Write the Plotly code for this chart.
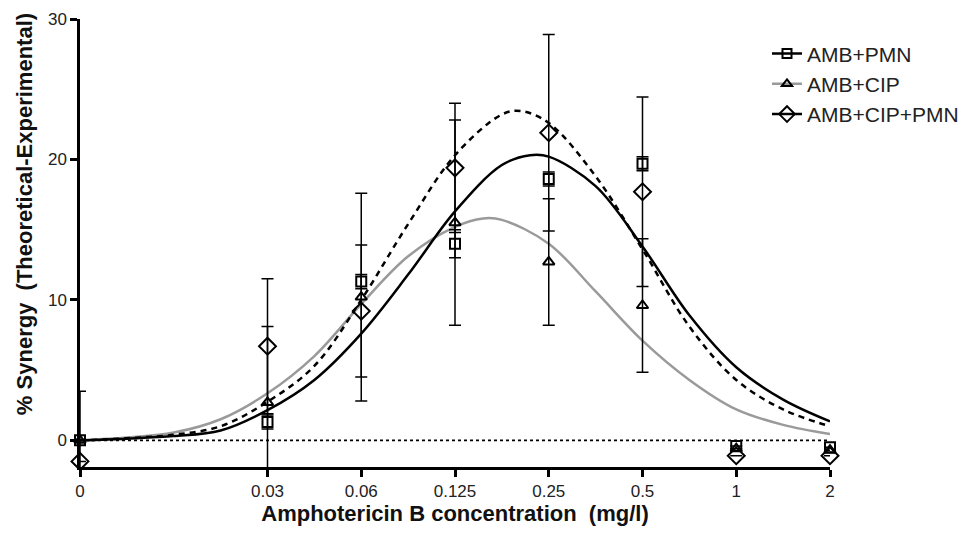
import plotly.graph_objects as go

# ---- data ----
conc_labels = ["0", "0.03", "0.06", "0.125", "0.25", "0.5", "1", "2"]
conc_pos = [-2, 0, 1, 2, 3, 4, 5, 6]   # axis position of each concentration (log2 steps, 0 offset)

amb_pmn = [0.0, 1.3, 11.3, 14.0, 18.6, 19.7, -0.4, -0.5]
amb_pmn_err = [3.5, 0.5, 0.5, 1.0, 0.5, 0.5, 0.0, 0.0]

amb_cip = [0.0, 2.7, 10.2, 15.5, 12.7, 9.6, -0.6, -0.7]
amb_cip_err = [0.0, 5.4, 7.4, 7.3, 4.5, 4.75, 0.0, 0.0]

amb_cip_pmn = [-1.5, 6.7, 9.2, 19.4, 21.9, 17.7, -1.1, -1.1]
amb_cip_pmn_err = [0.0, 4.8, 4.7, 4.6, 7.0, 6.75, 0.0, 0.0]

# fitted curves sampled along the axis
curve_pos_pmn = [-2, -1.5, -1, -0.5, 0, 0.5, 1, 1.5, 2, 2.5, 2.8, 3, 3.5, 4, 4.5, 5, 5.5, 6]
curve_pmn = [0, 0.12, 0.3, 0.7, 2.15, 4.3, 7.6, 11.8, 16.3, 19.6, 20.3, 20.2, 18.1, 13.8, 8.9, 5.2, 2.9, 1.35]

curve_pos_cip_pmn = [-2, -1.5, -1, -0.5, 0, 0.5, 1, 1.5, 2, 2.5, 2.7, 3, 3.5, 4, 4.5, 5, 5.5, 6]
curve_cip_pmn = [0, 0.15, 0.4, 1.0, 2.75, 5.3, 10.0, 15.4, 20.3, 23.2, 23.45, 22.6, 18.8, 13.6, 8.1, 4.3, 2.2, 1.0]

curve_pos_cip = [-2, -1.5, -1, -0.5, 0, 0.5, 1, 1.5, 2, 2.3, 2.5, 3, 3.5, 4, 4.5, 5, 5.5, 6]
curve_cip = [0, 0.2, 0.55, 1.5, 3.35, 6.0, 9.7, 13.1, 15.2, 15.8, 15.7, 14.0, 10.6, 7.1, 4.3, 2.2, 1.1, 0.45]

names = ["AMB+PMN", "AMB+CIP", "AMB+CIP+PMN"]
x_title = "Amphotericin B concentration  (mg/l)"
y_title = "% Synergy  (Theoretical-Experimental)"

BLACK = "#000000"
GRAY = "#9a9a9a"
FONT = "Liberation Sans, Arial, sans-serif"

fig = go.Figure()

# curves
fig.add_trace(go.Scatter(x=curve_pos_cip, y=curve_cip, mode="lines",
                         line=dict(color=GRAY, width=2.5, shape="spline", smoothing=1.0),
                         showlegend=False, hoverinfo="skip"))
fig.add_trace(go.Scatter(x=curve_pos_pmn, y=curve_pmn, mode="lines",
                         line=dict(color=BLACK, width=2.5, shape="spline", smoothing=1.0),
                         showlegend=False, hoverinfo="skip"))
fig.add_trace(go.Scatter(x=curve_pos_cip_pmn, y=curve_cip_pmn, mode="lines",
                         line=dict(color=BLACK, width=2.5, dash="6px,5px", shape="spline", smoothing=1.0),
                         showlegend=False, hoverinfo="skip"))

series = [
    (amb_pmn, amb_pmn_err, "square-open", 10, BLACK),
    (amb_cip, amb_cip_err, "triangle-up-open", 10, GRAY),
    (amb_cip_pmn, amb_cip_pmn_err, "diamond-open", 13, BLACK),
]
for (vals, err, sym, size, lc), nm in zip(series, names):
    fig.add_trace(go.Scatter(
        x=conc_pos, y=vals, mode="markers", name=nm, showlegend=False,
        marker=dict(symbol=sym, size=size, color=BLACK, line=dict(width=2, color=BLACK)),
        error_y=dict(type="data", array=err, visible=True, color=BLACK, thickness=1.5, width=6),
        cliponaxis=False,
    ))

# legend entries (line + marker)
for (vals, err, sym, size, lc), nm in zip(series, names):
    fig.add_trace(go.Scatter(
        x=[None], y=[None], mode="lines+markers", name=nm,
        line=dict(color=lc, width=2.5),
        marker=dict(symbol=sym, size=size - 1, color=BLACK, line=dict(width=2, color=BLACK)),
    ))

# dotted zero line
fig.add_shape(type="line", xref="x", yref="y", x0=-2, x1=6, y0=0, y1=0,
              line=dict(color=BLACK, width=1.8, dash="dot"), layer="below")

fig.update_xaxes(range=[-2, 6], tickmode="array", tickvals=conc_pos, ticktext=conc_labels,
                 showline=True, linecolor=BLACK, linewidth=2.5, ticks="outside",
                 ticklen=7, tickwidth=2.5, tickcolor=BLACK, showgrid=False, zeroline=False,
                 automargin=False,
                 tickfont=dict(family=FONT, size=17, color="#222222"),
                 title=dict(text="<b>" + x_title + "</b>", standoff=6,
                            font=dict(family=FONT, size=22, color="#111111")))
fig.update_yaxes(range=[-1.9, 30], tickmode="array", tickvals=[0, 10, 20, 30],
                 showline=True, linecolor=BLACK, linewidth=2.5, ticks="outside",
                 ticklen=7, tickwidth=2.5, tickcolor=BLACK, showgrid=False, zeroline=False,
                 automargin=False,
                 tickfont=dict(family=FONT, size=17, color="#222222"))

# y title placed as annotation (sits above the plot centre in the reference)
fig.add_annotation(text="<b>" + y_title + "</b>", textangle=-90, showarrow=False,
                   xref="paper", yref="paper", x=-0.073, y=0.565,
                   xanchor="center", yanchor="middle",
                   font=dict(family=FONT, size=22, color="#111111"))

fig.update_layout(
    width=963, height=530,
    margin=dict(l=72, r=141, t=11, b=71, autoexpand=False),
    paper_bgcolor="white", plot_bgcolor="white",
    font=dict(family=FONT),
    legend=dict(x=0.916, y=0.968, xanchor="left", yanchor="top",
                font=dict(family=FONT, size=21, color="#222222"),
                bgcolor="rgba(0,0,0,0)", itemwidth=30, tracegroupgap=2),
)
fig.update_xaxes(tickprefix="<b>", ticksuffix="</b>")
fig.update_yaxes(tickprefix="<b>", ticksuffix="</b>")

fig.write_html("out.html")
